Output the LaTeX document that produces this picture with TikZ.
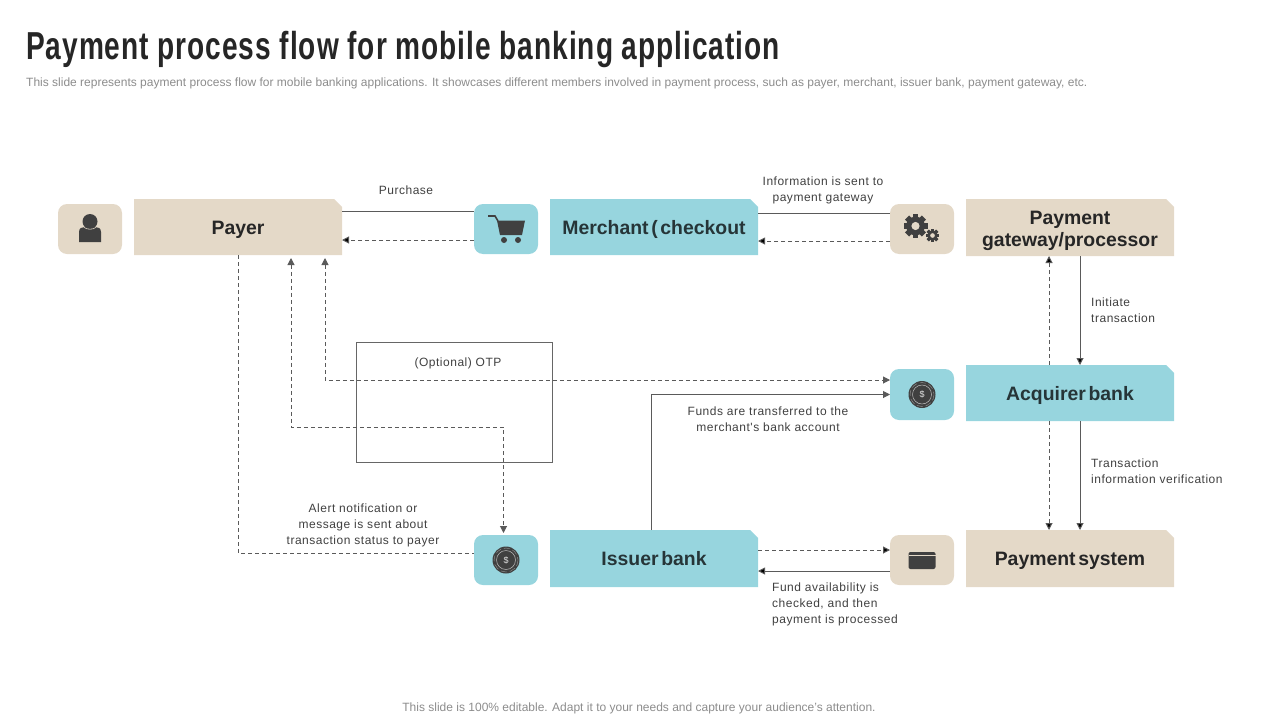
\documentclass[tikz,border=0pt]{standalone}
\usepackage{fontspec}
\setmainfont{Liberation Sans}
\newfontfamily\titlefont[FakeStretch=0.72,LetterSpace=2.45]{Liberation Sans}
\newfontfamily\notefont[LetterSpace=4.3]{Liberation Sans}
\newfontfamily\boxfont[WordSpace=0.5]{Liberation Sans}
\usepackage{tikz}
\usetikzlibrary{arrows.meta,shapes.misc}

\definecolor{tan}{HTML}{E4D9C8}
\definecolor{teal}{HTML}{97D5DE}
\definecolor{iconDark}{HTML}{404040}
\definecolor{lineDark}{HTML}{5A5A5A}
\definecolor{noteGray}{HTML}{8C8C8C}

\tikzset{
	base box/.style={shape=chamfered rectangle,chamfered rectangle corners=north east,
		chamfered rectangle sep=4pt,minimum width=208pt,minimum height=56pt,inner sep=0pt,outer sep=0pt,
		align=center,text height=18pt,text depth=4pt,font=\boxfont\bfseries\fontsize{19.4}{22}\selectfont},
	tan box/.style={base box,fill=tan,text=black!85},
	teal box/.style={base box,fill=teal,text=black!75!teal},
	base tile/.style={rectangle,rounded corners=9pt,minimum width=64pt,minimum height=50pt,inner sep=0pt,outer sep=0pt},
	tan tile/.style={base tile,fill=tan},
	teal tile/.style={base tile,fill=teal},
	note/.style={inner sep=0pt,text=iconDark,font=\notefont\fontsize{12}{16}\selectfont},
	link/.style={draw=lineDark,line width=1pt,>={Stealth[length=7pt,width=7pt,inset=0pt]}},
	dash link/.style={link,dash pattern=on 4pt off 3pt},
	personicon/.pic={
		\fill[iconDark] (0,-7.5) circle (7.5);
		\fill[iconDark] (-11,13) -- (-11,3) .. controls (-11,-1) and (-8,-2) .. (-5,-2) -- (5,-2) .. controls (8,-2) and (11,-1) .. (11,3) -- (11,13) -- cycle;
		\draw[tan,line width=.6pt] (-6,-1.6) .. controls (-3,.8) and (3,.8) .. (6,-1.6);
	},
	carticon/.pic={
		\draw[iconDark,line width=1.6pt] (-18,-13) -- (-11,-13) -- (-8,-8);
		\fill[iconDark] (-9,-8.5) -- (19,-8.5) -- (16,6) -- (-6,6) -- cycle;
		\fill[iconDark] (-2,11) circle (3) (12,11) circle (3);
	},
	gearshape/.pic={
		\fill[iconDark] (0,0) circle (0.78);
		\foreach \a in {0,45,...,315}
			\fill[iconDark,rotate=\a] (-0.24,0.65) rectangle (0.24,1);
		\fill[tan] (0,0) circle (0.34);
	},
	coinicon/.pic={
		\fill[iconDark] (0,0) circle (13.5);
		\draw[white!65!iconDark,line width=.5pt] (0,0) circle (9.5);
		\draw[white!45!iconDark,line width=.4pt,dash pattern=on 6pt off 3pt] (0,0) circle (12);
		\node[text=white!85!iconDark,inner sep=0pt,font=\fontsize{9}{9}\selectfont] at (0,0) {\$};
	},
	cardicon/.pic={
		\fill[iconDark,rounded corners=2pt] (-13.5,-8) rectangle (13.5,9);
		\draw[tan,line width=1pt] (-13.5,-5) -- (13.5,-5);
	}
}

\begin{document}
\begin{tikzpicture}[x=1pt,y=-1pt]
	\useasboundingbox (0,0) rectangle (1280,720);

	\node[anchor=west,inner sep=0pt,text=black!85,font=\titlefont\bfseries\fontsize{39}{41}\selectfont] (title) at (26,50) {Payment process flow for mobile banking application};
	\node[anchor=west,inner sep=0pt,text=noteGray,font=\fontsize{12}{14}\selectfont] (subtitle) at (26,83.5) {This slide represents payment process flow for mobile banking applications. It showcases different members involved in payment process, such as payer, merchant, issuer bank, payment gateway, etc.};
	\node[inner sep=0pt,text=noteGray,font=\fontsize{12}{14}\selectfont] (footer) at (639,708) {This slide is 100\% editable. Adapt it to your needs and capture your audience's attention.};

	% boxes
	\node[tan box] (payer) at (238,227) {Payer};
	\node[teal box] (merchant) at (654,227) {Merchant ( checkout};
	\node[tan box,minimum height=57pt,text height=,text depth=] (gateway) at (1070,227.5) {\rule{0pt}{20pt}Payment\\gateway/processor};
	\node[teal box] (acquirer) at (1070,393) {Acquirer bank};
	\node[teal box,minimum height=57pt] (issuer) at (654,558.5) {Issuer bank};
	\node[tan box,minimum height=57pt] (system) at (1070,558.5) {Payment system};

	% icon tiles
	\node[tan tile] (payerIcon) at (90,229) {};
	\node[teal tile] (cartIcon) at (506,229) {};
	\node[tan tile] (gearIcon) at (922,229) {};
	\node[teal tile,minimum height=51pt] (acquirerIcon) at (922,394.5) {};
	\node[teal tile] (issuerIcon) at (506,560) {};
	\node[tan tile] (cardIcon) at (922,560) {};

	\pic at (payerIcon) {personicon};
	\pic at (cartIcon) {carticon};
	\pic[scale=12] at ([shift={(-6.5,-3)}]gearIcon) {gearshape};
	\pic[scale=6.8] at ([shift={(10.5,6.5)}]gearIcon) {gearshape};
	\pic at (acquirerIcon) {coinicon};
	\pic at (issuerIcon) {coinicon};
	\pic at (cardIcon) {cardicon};

	% otp box
	\node[draw=black!60,line width=.8pt,minimum width=196pt,minimum height=120pt,inner sep=0pt,outer sep=0pt] (otp) at (454.5,402.5) {};
	\node[note] (otpText) at (458,363) {(Optional) OTP};

	% connectors
	\coordinate (otpBend) at (503.5,427);
	\path[link]
	([yshift=16pt]payer.east) edge ([yshift=18pt]cartIcon.west)
	([yshift=14pt]merchant.east) edge ([yshift=16pt]gearIcon.west)
	([xshift=10pt]gateway.south) edge[->] ([xshift=10pt]acquirer.north)
	([xshift=10pt]acquirer.south) edge[->] ([xshift=10pt]system.north)
	([yshift=-11pt]cardIcon.west) edge[->] ([yshift=-12.5pt]issuer.east);
	\draw[link,->] ([xshift=-3pt]issuer.north) |- (acquirerIcon.west);

	\path[dash link]
	([yshift=-11pt]cartIcon.west) edge[->] ([yshift=-13pt]payer.east)
	([yshift=-12pt]gearIcon.west) edge[->] ([yshift=-14pt]merchant.east)
	([xshift=-21pt]acquirer.north) edge[->] ([xshift=-21pt]gateway.south)
	([xshift=-21pt]acquirer.south) edge[->] ([xshift=-21pt]system.north)
	([yshift=8.5pt]issuer.east) edge[->] ([yshift=10pt]cardIcon.west);
	\draw[dash link,<->,shorten <=3pt] ([xshift=87pt]payer.south) |- ([yshift=14.5pt]acquirerIcon.west);
	\draw[dash link,<->,shorten <=3pt,shorten >=2pt] ([xshift=53pt]payer.south) |- (otpBend) -- ([xshift=-2.5pt]issuerIcon.north);
	\draw[dash link] (payer.south) |- ([yshift=7pt]issuerIcon.west);

	% labels
	\node[note] (purchaseText) at (406,190) {Purchase};
	\node[note,align=center] (infoText) at (823,190) {Information is sent to\\payment gateway};
	\node[note,align=left,anchor=west] (initiateText) at (1091,310) {Initiate\\transaction};
	\node[note,align=left,anchor=west] (verifyText) at (1091,471) {Transaction\\information verification};
	\node[note,align=center] (fundsText) at (768,419) {Funds are transferred to the\\merchant's bank account};
	\node[note,align=center] (alertText) at (363,525) {Alert notification or\\message is sent about\\transaction status to payer};
	\node[note,align=left,anchor=west] (availText) at (772,604) {Fund availability is\\checked, and then\\payment is processed};
\end{tikzpicture}
\end{document}
